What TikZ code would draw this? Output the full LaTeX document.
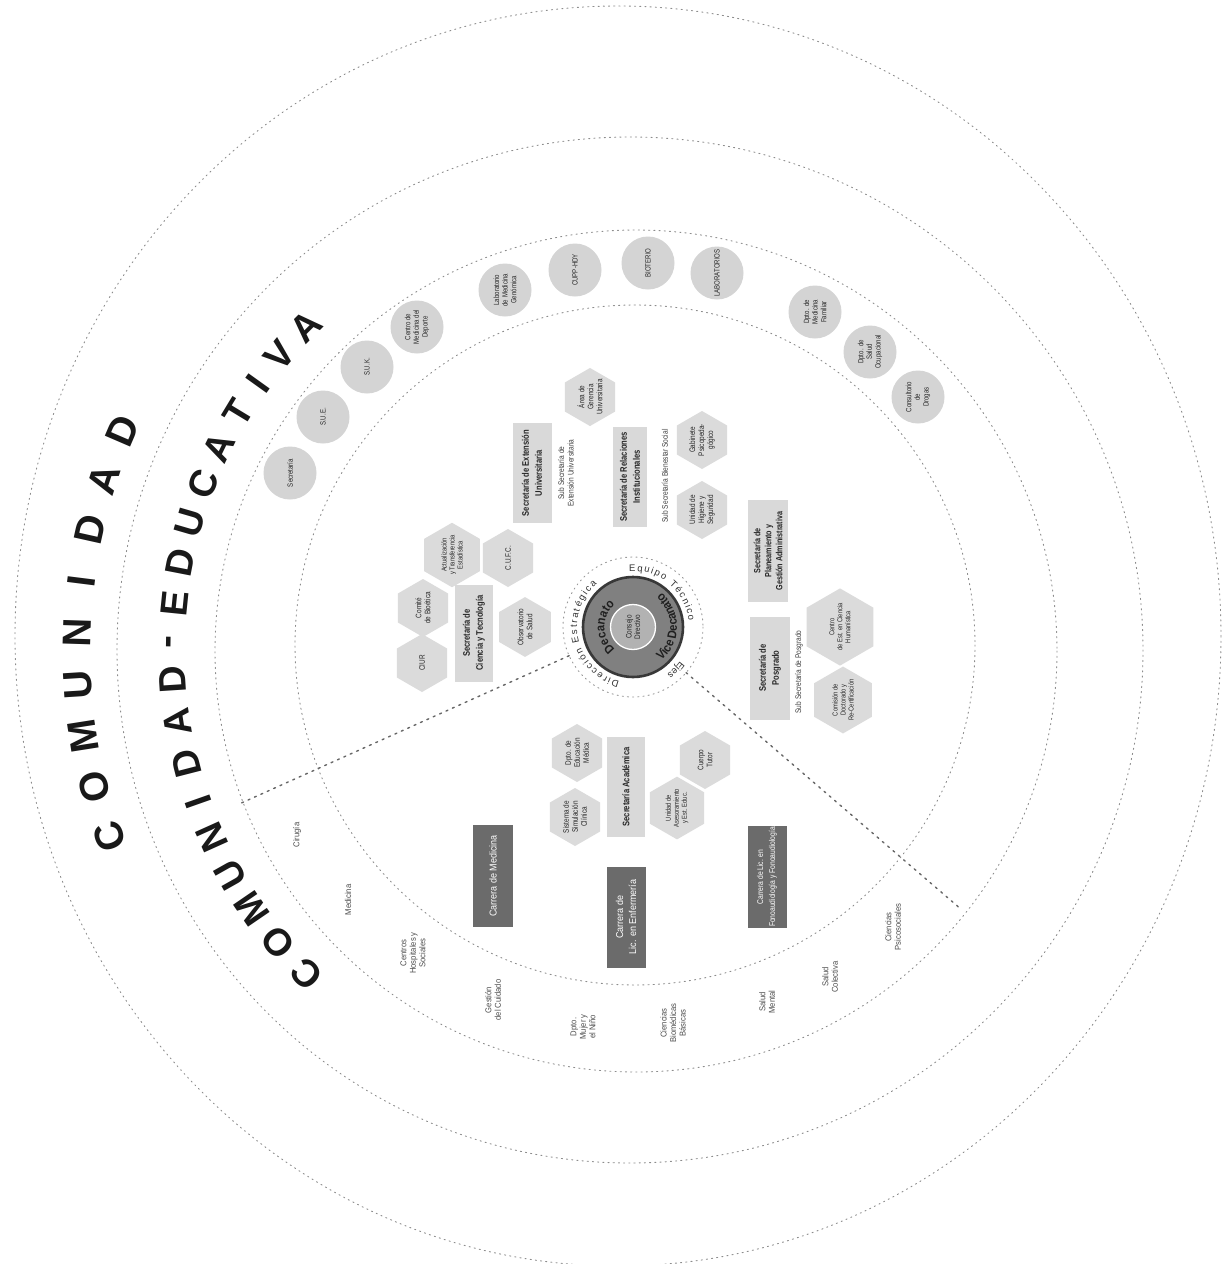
\documentclass[tikz,border=0pt]{standalone}
\usepackage{fontspec}
\setmainfont{Liberation Sans}
\newfontfamily\condf{Liberation Sans}[FakeStretch=0.8]
\newfontfamily\semif{Liberation Sans}[FakeStretch=0.9]
\newfontfamily\bigf{Liberation Sans}
\usetikzlibrary{shapes.geometric,decorations.text,calc}
\begin{document}
\begin{tikzpicture}[x=1pt,y=-1pt,
  ringline/.style={draw=black!45, line width=0.9pt, dash pattern=on 1.2pt off 4pt, line cap=round},
  radial/.style={draw=black!60, line width=1.4pt, dash pattern=on 2pt off 5pt, line cap=round},
  sec/.style={rectangle, fill=black!15, rotate=90, inner sep=1pt, align=center, text=black!85,
    font=\condf\bfseries\fontsize{9.5}{13}\selectfont},
  subt/.style={rotate=90, align=center, text=black!75, inner sep=0pt, font=\condf\fontsize{8.2}{9.5}\selectfont},
  carrera/.style={rectangle, fill=black!58, rotate=90, text=white, align=center, inner sep=1pt,
    font=\semif\fontsize{10}{13}\selectfont},
  hexa/.style={regular polygon, regular polygon sides=6, fill=black!14, rotate=90, minimum size=58pt,
    inner sep=0pt, align=center, text=black!85, font=\condf\fontsize{8}{9}\selectfont},
  bub/.style={circle, fill=black!17, minimum size=53pt, inner sep=0pt, rotate=90, align=center,
    text=black!85, font=\condf\fontsize{7.6}{8.6}\selectfont},
  lab/.style={rotate=90, align=center, text=black!70, inner sep=0pt, font=\semif\fontsize{8.5}{9.5}\selectfont},
  bigl/.style={inner sep=0pt, text=black!90, font=\bigf\bfseries\fontsize{38}{38}\selectfont}
]
\useasboundingbox (0,0) rectangle (1223,1264);
\fill[white] (0,0) rectangle (1223,1264);

% ---------- big dotted rings ----------
\draw[ringline] (618,636) ellipse [x radius=603, y radius=630];
\draw[ringline] (630,650) circle (513);
\draw[ringline] (636,651) circle (421);
\draw[ringline] (635,645) circle (340);

% ---------- centre ----------
\coordinate (c) at (633,627);
\node[circle, fill=black!50, draw=black!78, line width=2.6pt, minimum size=100pt] (dec) at (c) {};
\node[circle, fill=black!30, draw=white, line width=1.3pt, minimum size=45pt, rotate=90, align=center,
  inner sep=0pt, text=black!85, font=\condf\fontsize{8}{8.5}\selectfont] (cdir) at (c) {Consejo\\Directivo};
\draw[ringline, draw=black!40] (c) circle (70);

\path[decorate, decoration={text along path, text align=center, text color=black!88,
  text={|\semif\bfseries\fontsize{12.5}{12.5}\selectfont|Decanato}}]
  (c) ++(118:28.5) arc[start angle=118, end angle=242, radius=28.5];
\path[decorate, decoration={text along path, text align=center, text color=black!88,
  text={|\semif\bfseries\fontsize{12.5}{12.5}\selectfont|Vice Decanato}}]
  (c) ++(76:44) arc[start angle=76, end angle=-76, radius=44];
\path[decorate, decoration={text along path, text align={fit to path}, text color=black!80,
  text={|\fontsize{9.5}{9.5}\selectfont|Dirección Estratégica}}]
  (c) ++(104:56) arc[start angle=104, end angle=230, radius=56];
\path[decorate, decoration={text along path, text align={fit to path}, text color=black!80,
  text={|\fontsize{9.5}{9.5}\selectfont|Equipo Técnico}}]
  (c) ++(266:56) arc[start angle=266, end angle=354, radius=56];
\path[decorate, decoration={text along path, text align=center, text color=black!80,
  text={|\fontsize{9.5}{9.5}\selectfont|Ejes}}]
  (c) ++(32:58) arc[start angle=32, end angle=58, radius=58];

% ---------- radial dividers ----------
\coordinate (la) at ($(c)+(155.8:70)$);
\coordinate (lb) at ($(c)+(155.8:432)$);
\coordinate (ra) at ($(c)+(40.7:70)$);
\coordinate (rb) at ($(c)+(40.7:432)$);
\draw[radial] (la) -- (lb);
\draw[radial] (ra) -- (rb);

% ---------- ring of circles ----------
\node[bub] (b1) at (290,473) {Secretaría};
\node[bub] (b2) at (323,417) {S.U.E.};
\node[bub] (b3) at (367,367) {S.U.K.};
\node[bub] (b4) at (417,327) {Centro de\\Medicina del\\Deporte};
\node[bub] (b5) at (505,290) {Laboratorio\\de Medicina\\Genómica};
\node[bub] (b6) at (575,270) {CUPP-HDY};
\node[bub] (b7) at (648,263) {BIOTERIO};
\node[bub] (b8) at (717,273) {LABORATORIOS};
\node[bub] (b9) at (815,312) {Dpto. de\\Medicina\\Familiar};
\node[bub] (b10) at (870,352) {Dpto. de\\Salud\\Ocupacional};
\node[bub] (b11) at (918,397) {Consultorio\\de\\Drogas};

% ---------- secretarias ----------
\node[sec, minimum width=97pt, minimum height=38pt] (s1) at (474,633) {Secretaría de\\Ciencia y Tecnología};
\node[sec, minimum width=100pt, minimum height=39pt] (s2) at (532,473) {Secretaría de Extensión\\Universitaria};
\node[subt] (s2b) at (566,473) {Sub Secretaría de\\Extensión Universitaria};
\node[sec, minimum width=100pt, minimum height=34pt] (s3) at (630,477) {Secretaría de Relaciones\\Institucionales};
\node[subt] (s3b) at (665,476) {Sub Secretaría Bienestar Social};
\node[sec, minimum width=102pt, minimum height=40pt, font=\condf\bfseries\fontsize{9}{11}\selectfont] (s4) at (768,551) {Secretaría de\\Planeamiento y\\Gestión Administrativa};
\node[sec, minimum width=103pt, minimum height=40pt] (s5) at (770,668) {Secretaría de\\Posgrado};
\node[subt] (s5b) at (799,672) {Sub Secretaría de Posgrado};
\node[sec, minimum width=100pt, minimum height=38pt] (s6) at (626,787) {Secretaría Académica};

% ---------- hexagons ----------
\node[hexa] (h1) at (423,608) {Comité\\de Bioética};
\node[hexa] (h2) at (422,663) {CIUR};
\node[hexa, font=\condf\fontsize{7.2}{8}\selectfont] (h3) at (452,555) {Actualización\\y Transferencia\\Estadística};
\node[hexa] (h4) at (508,558) {C.U.F.C.};
\node[hexa] (h5) at (525,627) {Observatorio\\de Salud};
\node[hexa] (h6) at (590,397) {Área de\\Gerencia\\Universitaria};
\node[hexa] (h7) at (702,440) {Gabinete\\Psicopeda-\\gógico};
\node[hexa] (h8) at (702,510) {Unidad de\\Higiene y\\Seguridad};
\node[hexa, font=\condf\fontsize{7.2}{8}\selectfont] (h9) at (840,627) {Centro\\de Est. en Ciencia\\Humanística};
\node[hexa, font=\condf\fontsize{7.2}{8}\selectfont] (h10) at (843,700) {Comisión de\\Doctorado y\\Re-Certificación};
\node[hexa] (h11) at (577,753) {Dpto. de\\Educación\\Médica};
\node[hexa] (h12) at (575,817) {Sistema de\\Simulación\\Clínica};
\node[hexa, font=\condf\fontsize{7.2}{8}\selectfont] (h13) at (677,808) {Unidad de\\Asesoramiento\\y Est. Educ.};
\node[hexa] (h14) at (705,760) {Cuerpo\\Tutor};

% ---------- carreras ----------
\node[carrera, minimum width=102pt, minimum height=40pt] (k1) at (493,876) {Carrera de Medicina};
\node[carrera, minimum width=101pt, minimum height=39pt] (k2) at (626,917) {Carrera de\\Lic. en Enfermería};
\node[carrera, minimum width=101pt, minimum height=39pt, font=\condf\fontsize{8.4}{12}\selectfont] (k3) at (767,877) {Carrera de Lic. en\\Fonoaudiología y Fonoaudiología};

% ---------- departamentos ----------
\node[lab] (d1) at (297,835) {Cirugía};
\node[lab] (d2) at (348,900) {Medicina};
\node[lab] (d3) at (413,953) {Centros\\Hospitales y\\Sociales};
\node[lab] (d4) at (493,1000) {Gestión\\del Cuidado};
\node[lab] (d5) at (583,1027) {Dpto.\\Mujer y\\el Niño};
\node[lab] (d6) at (673,1023) {Ciencias\\Biomédicas\\Básicas};
\node[lab] (d7) at (767,1002) {Salud\\Mental};
\node[lab] (d8) at (830,977) {Salud\\Colectiva};
\node[lab] (d9) at (893,927) {Ciencias\\Psicosociales};

% ---------- COMUNIDAD ----------
\foreach \ch [count=\i] in {C,O,M,U,N,I,D,A,D}{
  \pgfmathsetmacro\tang{160.3+(\i-1)*5.375}
  \node[bigl, font=\bigf\bfseries\fontsize{40}{40}\selectfont, rotate={-\tang-90}] at ({630+553*cos(\tang)},{650+553*sin(\tang)}) {\ch};
}
% ---------- COMUNIDAD-EDUCATIVA ----------
\foreach \tang/\ch in {135/C, 140.3/O, 145.6/M, 150.6/U, 155.8/N, 160.6/I, 165.6/D, 171.0/A, 176.3/D,
  181.0/-, 185.8/E, 191.0/D, 196.2/U, 201.2/C, 206.2/A, 211.2/T, 215.6/I, 220.0/V, 225.0/A}{
  \node[bigl, rotate={-\tang-90}] at ({630+458*cos(\tang)},{650+458*sin(\tang)}) {\ch};
}
\end{tikzpicture}
\end{document}
